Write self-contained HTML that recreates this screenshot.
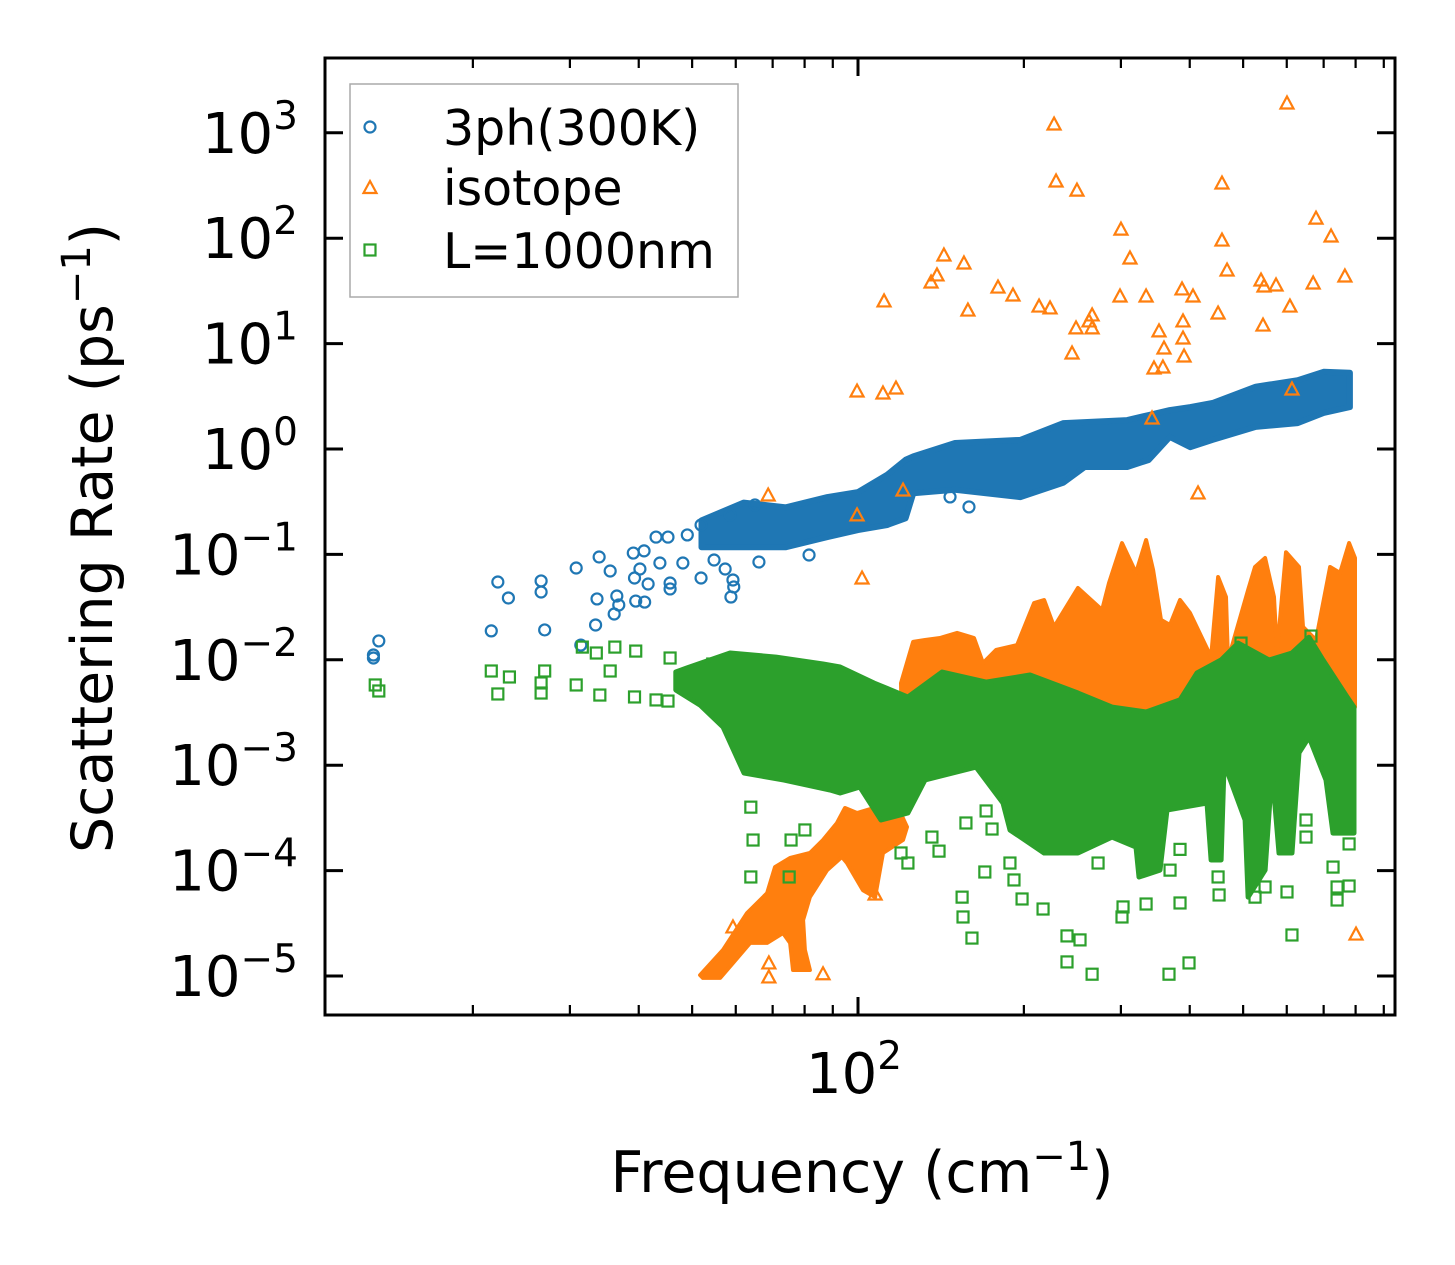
<!DOCTYPE html>
<html><head><meta charset="utf-8"><style>
html,body{margin:0;padding:0;background:#fff;}
svg{display:block;font-family:"DejaVu Sans","Liberation Sans",sans-serif;}
</style></head><body>
<svg id="chart" width="1455" height="1265" viewBox="0 0 1455 1265" xmlns="http://www.w3.org/2000/svg">
<rect x="0" y="0" width="1455" height="1265" fill="#fff"/>
<g id="marks"></g>
<g id="axes"></g>
<text transform="translate(112,538) rotate(-90)" text-anchor="middle" font-size="57">Scattering Rate (ps<tspan font-size="40" dy="-22">−1</tspan><tspan dy="22">)</tspan></text>
<text x="862" y="1192" text-anchor="middle" font-size="57">Frequency (cm<tspan font-size="40" dy="-22">−1</tspan><tspan dy="22">)</tspan></text>
<g>
<rect x="350" y="84" width="388" height="213" fill="#fff" stroke="#aaa" stroke-width="1.5"/>
<g><circle cx="370" cy="127" r="5.5" fill="none" stroke="#1f77b4" stroke-width="2.2"/><text x="443" y="145" font-size="49">3ph(300K)</text></g>
<g><polygon points="370,181 376.5,193 363.5,193" fill="none" stroke="#ff7f0e" stroke-width="2.2"/><text x="443" y="205" font-size="49">isotope</text></g>
<g><rect x="364.5" y="244.5" width="11" height="11" fill="none" stroke="#2ca02c" stroke-width="2.2"/><text x="443" y="268" font-size="49">L=1000nm</text></g>
</g>
</svg>
<script>
// ---- data ----
const yTickExps = [-5,-4,-3,-2,-1,0,1,2,3];
const xMajorTicks = [100];
const xMinorTicks = [20,30,40,50,60,70,80,90,200,300,400,500,600,700,800,900];
// 3-phonon scattered points
const phF = [13.5,13.2,13.2,22.2,23.2,21.6,26.6,26.6,27.0,30.8,33.9,35.5,33.6,33.4,31.4,36.5,36.8,36.1,39.5,41.0,39.1,40.9,43.0,45.2,39.3,40.2,41.6,43.7,45.6,45.6,48.1,51.9,54.8,57.4,59.3,59.5,58.8,49.0,51.9,58.6,65.0,81.5,66.1,146.9,159];
const phR = [0.0151,0.0111,0.0104,0.0547,0.0386,0.0188,0.056,0.044,0.0192,0.0743,0.0945,0.0696,0.0378,0.0214,0.0138,0.0403,0.0331,0.0272,0.0361,0.0353,0.103,0.108,0.146,0.146,0.0597,0.0727,0.0524,0.0829,0.0535,0.047,0.0829,0.0597,0.0885,0.0727,0.0572,0.0491,0.0394,0.153,0.190,0.237,0.294,0.0987,0.0847,0.351,0.282];
// 3-phonon dense band
const phBandF = [52,62,74,88,100,113,122,126,150,197,236,258,308,337,368,401,440,527,628,700,781];
const phBandHi = [0.21,0.31,0.28,0.35,0.39,0.57,0.79,0.85,1.14,1.22,1.76,1.8,1.88,2.1,2.34,2.5,2.73,3.9,4.5,5.4,5.3];
const phBandLo = [0.117,0.117,0.117,0.146,0.17,0.19,0.22,0.38,0.41,0.35,0.48,0.675,0.675,0.787,1.30,1.04,1.22,1.62,1.76,2.2,2.5];
// isotope scattered points
const isoF = [600.6,226.9,228.8,249.7,457.7,300.1,678,722,457.7,765,670,467.5,545.6,573.7,538.8,608,543.3,450.3,143.2,155.7,139.1,135.7,111.5,158.3,179.5,191.1,213.1,223.1,266,266,262.6,248.7,298.9,333.3,311.6,387.3,405.5,388.9,390.6,351.8,359.2,244.6,344.5,357.6,388.9,99.6,111.0,117.2,414.1,99.6,68.7,101.7,120.7,341.7,613.2,801.4,59.3,68.9,68.9,86.4,107.4];
const isoR = [1919,1211,349,286,334,122,155,105,96,43.8,37.6,49.9,35.2,36.0,40.1,22.7,15.0,19.5,69.3,58.2,44.8,38.4,25.4,20.8,34.4,28.9,22.7,21.8,18.7,14.1,16.4,14.1,28.3,28.3,64.9,33.0,28.3,16.4,7.63,13.2,9.08,8.15,5.87,6.0,11.3,3.55,3.40,3.79,0.383,0.237,0.366,0.0597,0.408,1.97,3.71,2.5e-5,2.92e-5,1.33e-5,9.8e-6,1.05e-5,6.0e-5];
// isotope dense low-frequency blob
const isoBlobF = [51.7,56.9,62.9,68.4,70.7,75.3,81.8,86.4,91.6,94.7,99.6,108.3,115.8,122.7,120.7,111,107.4,102.1,95.5,93.5,87.9,81.8,79.5,80.1,81.8,76.2,75.3,73.1,68.4,63.7,59.3,56.2,52.3];
const isoBlobR = [1.02e-5,1.77e-5,3.96e-5,6.1e-5,1.08e-4,1.32e-4,1.47e-4,1.95e-4,2.83e-4,3.93e-4,3.52e-4,4.01e-4,4.99e-4,2.59e-4,1.95e-4,1.47e-4,5.6e-5,6.5e-5,1.18e-4,1.35e-4,1.01e-4,5.6e-5,3.4e-5,1.77e-5,1.14e-5,1.14e-5,2.06e-5,2.56e-5,2.06e-5,2.06e-5,1.33e-5,9.6e-6,9.6e-6];
// isotope dense high-frequency spikes
const isoTopF = [119.7,125.9,132.3,140.9,151.3,162.4,168.6,178.0,194.4,208.7,217.6,226.9,250.7,277.3,285.5,301.4,319.6,333.3,343.2,354.8,368.4,384.1,400.5,437.3,450.3,465.5,469.4,510.4,525.5,548.0,568.9,576.1,598.2,631.6,642.2,678.1,719.0,749.8,778.5,798];
const isoTopR = [0.006,0.0148,0.0154,0.0161,0.018,0.0161,0.0093,0.0124,0.0138,0.0346,0.0369,0.0205,0.048,0.0297,0.0535,0.128,0.0666,0.137,0.0711,0.0239,0.0214,0.0369,0.0278,0.0106,0.061,0.0394,0.00996,0.0459,0.0759,0.0925,0.0394,0.0116,0.105,0.0759,0.0205,0.0154,0.0759,0.0666,0.128,0.0925];
const isoBotF = [798,700,600,500,400,300,200,150,120];
const isoBotR = [0.00356,0.0027,0.00216,0.0027,0.0027,0.0027,0.0027,0.0027,0.003];
// boundary scattered points
const bdF = [13.3,13.5,21.6,23.3,22.2,26.6,26.6,27.0,30.8,31.6,33.5,34.0,36.2,39.5,35.5,39.3,43.0,45.2,45.6,54.5,63.9,64.5,63.9,75.0,154.5,155.1,161.0,198.5,216.7,239.5,252.9,239.5,266,366.8,398.8,613.2,778.5,740.4,600.6,525.5,452.2,333.3,301.4,302.7,169.9,191.9,140.3,123.2,663.9,495.6,170.8,157.0,175.1,384.1,272.7,778.5,80.1,75.6,136.2,119.7,188.7,450.3,548,740.4,650.3,650.3,728,368.4,384.1];
const bdR = [5.77e-3,5.06e-3,7.83e-3,6.87e-3,4.74e-3,6.03e-3,4.84e-3,7.83e-3,5.77e-3,0.0132,0.0116,4.63e-3,0.0132,0.0121,7.83e-3,4.44e-3,4.16e-3,4.06e-3,0.0104,9.12e-3,4.0e-4,1.95e-4,8.7e-5,8.7e-5,5.6e-5,3.63e-5,2.29e-5,5.38e-5,4.32e-5,2.40e-5,2.20e-5,1.36e-5,1.04e-5,1.04e-5,1.33e-5,2.45e-5,7.14e-5,5.26e-5,6.27e-5,5.6e-5,5.87e-5,4.82e-5,3.63e-5,4.52e-5,9.7e-5,8.15e-5,1.53e-4,1.18e-4,0.0168,0.0144,3.68e-4,2.83e-4,2.48e-4,4.93e-5,1.18e-4,1.79e-4,2.43e-4,1.95e-4,2.08e-4,1.47e-4,1.18e-4,8.7e-5,6.99e-5,6.99e-5,3.02e-4,2.08e-4,1.08e-4,1.01e-4,1.59e-4];
// boundary dense band
const bdTopF = [46.7,48.9,58.6,71.0,86.4,92.8,106.9,123.2,142.1,170.8,205.2,250.7,289.1,333.3,384.1,412.3,456.0,489.5,557.1,613.2,658.5,698.2,772,794.6];
const bdTopR = [7.66e-3,8.36e-3,0.0116,0.0106,9.12e-3,8.55e-3,6.03e-3,4.44e-3,7.66e-3,6.15e-3,7.18e-3,4.84e-3,3.56e-3,3.20e-3,4.16e-3,7.50e-3,9.96e-3,0.0144,9.96e-3,0.0116,0.0164,9.96e-3,4.44e-3,3.56e-3];
const bdBotF = [794.6,728,707,658.5,631.6,613.2,580.9,564.2,548,510.4,504.1,461.7,456.0,437.3,430,363.8,353.3,323.6,319.6,289.1,250.7,217.6,188.7,183.3,163.8,132.3,123.2,110.1,100.8,92.8,89.0,73.4,62.1,56.9,51.7,46.7];
const bdBotR = [2.27e-4,2.27e-4,7.24e-4,1.85e-3,1.31e-3,1.47e-4,1.47e-4,9.0e-4,1.01e-4,5.6e-5,3.02e-4,1.05e-3,1.26e-4,1.26e-4,4.38e-4,3.76e-4,1.01e-4,8.7e-5,1.67e-4,2.08e-4,1.47e-4,1.47e-4,2.43e-4,4.38e-4,9.6e-4,7.24e-4,3.52e-4,3.02e-4,6.21e-4,5.45e-4,5.82e-4,7.24e-4,8.43e-4,2.30e-3,3.72e-3,5.17e-3];

// ---- axes ----
const PL=325, PR=1395, PT=58, PB=1015;
const X100=858, XDEC=551, Y0=449, YDEC=105.4;
function xs(f){ return X100 + (Math.log10(f)-2)*XDEC; }
function ys(r){ return Y0 - Math.log10(r)*YDEC; }
const NS="http://www.w3.org/2000/svg";
const marks=document.getElementById('marks');
const axes=document.getElementById('axes');
function mk(tag, attrs, parent){ const e=document.createElementNS(NS,tag); for(const k in attrs) e.setAttribute(k,attrs[k]); parent.appendChild(e); return e; }
const C1='#1f77b4', C2='#ff7f0e', C3='#2ca02c';

function band(F1,R1,F2,R2,color,name,sw){
  const pts=[];
  for(let i=0;i<F1.length;i++) pts.push(xs(F1[i]).toFixed(1)+','+ys(R1[i]).toFixed(1));
  for(let i=0;i<F2.length;i++) pts.push(xs(F2[i]).toFixed(1)+','+ys(R2[i]).toFixed(1));
  const p=mk('polygon',{points:pts.join(' '),fill:color,stroke:color,'stroke-width':sw,'stroke-linejoin':'round'},marks);
  
  
}
function circles(F,R){ for(let i=0;i<F.length;i++){ const c=mk('circle',{cx:xs(F[i]),cy:ys(R[i]),r:5.5,fill:'none',stroke:C1,'stroke-width':2.2},marks);
  
   } }
function tris(F,R){ for(let i=0;i<F.length;i++){ const x=xs(F[i]), y=ys(R[i]);
  const t=mk('polygon',{points:`${x},${y-6.5} ${x+6.5},${y+5.5} ${x-6.5},${y+5.5}`,fill:'none',stroke:C2,'stroke-width':2.2},marks);
  
   } }
function squares(F,R){ for(let i=0;i<F.length;i++){ const s=mk('rect',{x:xs(F[i])-5.5,y:ys(R[i])-5.5,width:11,height:11,fill:'none',stroke:C3,'stroke-width':2.2},marks);
  
   } }

band(phBandF,phBandHi,phBandF.slice().reverse(),phBandLo.slice().reverse(),C1,'band-3ph',6);
circles(phF,phR);
band(isoBlobF,isoBlobR,[],[],C2,'band-isotope-low',4);
band(isoTopF,isoTopR,isoBotF,isoBotR,C2,'band-isotope-high',4);
tris(isoF,isoR);
band(bdTopF,bdTopR,bdBotF,bdBotR,C3,'band-boundary',5);
squares(bdF,bdR);

const fr=mk('rect',{x:PL,y:PT,width:PR-PL,height:PB-PT,fill:'none',stroke:'#000','stroke-width':3},axes);


for(const e of yTickExps){
  const y=ys(Math.pow(10,e));
  mk('line',{x1:PL,x2:PL+18,y1:y,y2:y,stroke:'#000','stroke-width':3},axes);
  mk('line',{x1:PR,x2:PR-18,y1:y,y2:y,stroke:'#000','stroke-width':3},axes);
  const t=mk('text',{x:298,y:y+20,'text-anchor':'end','font-size':56},axes);
  
  
  t.appendChild(document.createTextNode('10'));
  const s=mk('tspan',{dy:-24,'font-size':39},t);
  s.textContent=(e<0?'−':'')+Math.abs(e);
}
for(const v of xMinorTicks){
  const x=xs(v);
  mk('line',{x1:x,x2:x,y1:PB,y2:PB-10,stroke:'#000','stroke-width':2.2},axes);
  mk('line',{x1:x,x2:x,y1:PT,y2:PT+10,stroke:'#000','stroke-width':2.2},axes);
}
for(const v of xMajorTicks){
  const x=xs(v);
  mk('line',{x1:x,x2:x,y1:PB,y2:PB-18,stroke:'#000','stroke-width':3},axes);
  mk('line',{x1:x,x2:x,y1:PT,y2:PT+18,stroke:'#000','stroke-width':3},axes);
  const t=mk('text',{x:x-4,y:1093,'text-anchor':'middle','font-size':56},axes);
  
  
  t.appendChild(document.createTextNode('10'));
  const s=mk('tspan',{dy:-24,'font-size':39},t);
  s.textContent=String(Math.round(Math.log10(v)));
}
</script>
</body></html>
